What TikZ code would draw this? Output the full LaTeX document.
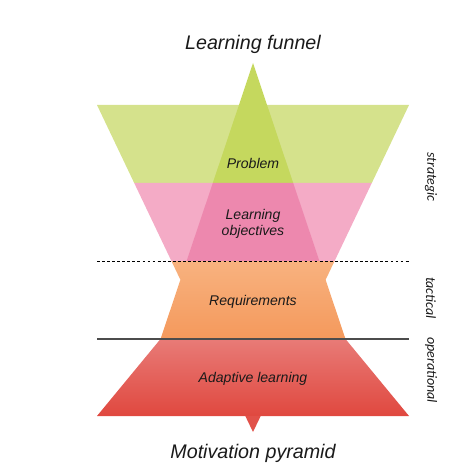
\documentclass[tikz,border=0pt]{standalone}
\usepackage{fontspec}
\setmainfont{Liberation Sans}
\newfontfamily\sidefont{Carlito}
\definecolor{funnelgreen}{HTML}{D5E28C}
\definecolor{pyrgreen}{HTML}{C5D85E}
\definecolor{funnelpink}{HTML}{F4ABC6}
\definecolor{pyrpink}{HTML}{ED88AE}
\definecolor{orangetop}{HTML}{F8B27F}
\definecolor{orangebot}{HTML}{F4995C}
\definecolor{redtop}{HTML}{E87B77}
\definecolor{redbot}{HTML}{E0483F}
\definecolor{labtext}{HTML}{1A1A1A}
\tikzset{
  lab/.style={font=\fontsize{10}{11.5}\selectfont\itshape, text=labtext, align=center, inner sep=1pt},
  title/.style={font=\fontsize{14}{16}\selectfont\itshape, text=labtext, inner sep=1pt},
  side/.style={font=\sidefont\fontsize{10}{12}\selectfont\itshape, text=labtext, rotate=-90, inner sep=1pt}
}
\begin{document}
\begin{tikzpicture}[x=0.25mm,y=-0.25mm]
\useasboundingbox (0,0) rectangle (470,470);
% funnel, upper layers
\fill[funnelgreen] (97,105) -- (409,105) -- (371.8,183) -- (134.2,183) -- cycle;
\fill[funnelpink] (134.2,183) -- (371.8,183) -- (334.6,261) -- (171.4,261) -- cycle;
% pyramid, upper layers
\fill[pyrgreen] (253,63) -- (293.2,183) -- (212.8,183) -- cycle;
\fill[pyrpink] (212.8,183) -- (293.2,183) -- (319.4,261) -- (186.6,261) -- cycle;
% middle and bottom layers
\shade[top color=orangetop,bottom color=orangebot] (171.4,261) -- (334.6,261) -- (325.6,279.8) -- (345.5,339) -- (160.5,339) -- (180.4,279.8) -- cycle;
\shade[top color=redtop,bottom color=redbot] (160.5,339) -- (345.5,339) -- (409,416) -- (97,416) -- cycle;
\fill[redbot!95!white] (245.3,416) -- (260.7,416) -- (253,432) -- cycle;
% level lines
\coordinate (dl) at (97,261);
\coordinate (dr) at (409,261);
\coordinate (sl) at (97,339);
\coordinate (sr) at (409,339);
\draw[black,line width=0.6pt,dash pattern=on 2pt off 1.6pt] (dl) -- (dr);
\draw[black!70,line width=0.8pt] (sl) -- (sr);
% labels
\node[title] (funnel) at (253,44) {Learning funnel};
\node[title] (pyramid) at (253,453) {Motivation pyramid};
\node[lab] (problem) at (253,163) {Problem};
\node[lab] (objectives) at (253,224) {Learning\\objectives};
\node[lab] (requirements) at (253,302) {Requirements};
\node[lab] (adaptive) at (253,379) {Adaptive learning};
\node[side] (strategic) at (431,177) {strategic};
\node[side] (tactical) at (431,298) {tactical};
\node[side] (operational) at (431,370) {operational};
\end{tikzpicture}
\end{document}
